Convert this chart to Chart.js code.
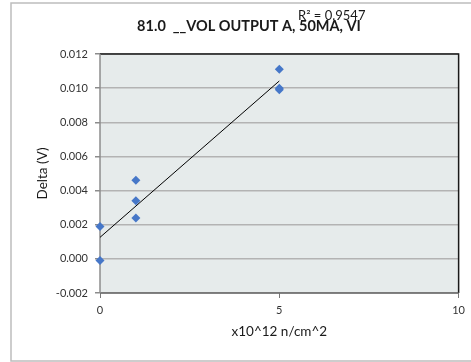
<!DOCTYPE html>
<html>
<head>
<meta charset="utf-8">
<script src="https://cdn.jsdelivr.net/npm/chart.js@4"></script>
<style>
  html, body { margin: 0; padding: 0; background: #fff; }
  canvas { display: block; }
</style>
</head>
<body>
<canvas id="deltaChart" width="471" height="362"></canvas>
<script>
// Data
const fluence = [0, 0, 1, 1, 1, 5, 5, 5];
const delta = [0.0019, -0.0001, 0.0046, 0.0034, 0.0024, 0.0111, 0.0100, 0.0099];
const trendX = [0, 5];
const trendY = [0.00126, 0.01042];
const xTicks = [0, 5, 10];
const yTicks = [-0.002, 0, 0.002, 0.004, 0.006, 0.008, 0.010, 0.012];
const chartTitle = '81.0  __VOL OUTPUT A, 50MA, VI';
const rSquared = 'R\u00b2 = 0.9547';

const FONT = 'Lato, "Open Sans", sans-serif';

// frame, plot background, titles
const decor = {
  id: 'decor',
  beforeDraw(chart) {
    const { ctx, chartArea: a } = chart;
    ctx.save();
    ctx.strokeStyle = '#bdbdbd';
    ctx.lineWidth = 1.5;
    ctx.strokeRect(11, 3, 520, 358);
    ctx.fillStyle = '#e6ebeb';
    ctx.fillRect(a.left, a.top, a.right - a.left, a.bottom - a.top);
    ctx.restore();
  },
  beforeDatasetsDraw(chart) {
    const { ctx, chartArea: a } = chart;
    ctx.save();
    ctx.strokeStyle = '#1a1a1a';
    ctx.lineWidth = 1.5;
    ctx.beginPath();
    ctx.moveTo(a.left, a.top);
    ctx.lineTo(a.right, a.top);
    ctx.lineTo(a.right, a.bottom);
    ctx.stroke();
    ctx.strokeStyle = '#666';
    ctx.beginPath();
    ctx.moveTo(a.right, a.bottom);
    ctx.lineTo(a.left, a.bottom);
    ctx.stroke();
    ctx.strokeStyle = '#8c8c8c';
    ctx.beginPath();
    ctx.moveTo(a.left, a.bottom);
    ctx.lineTo(a.left, a.top);
    ctx.stroke();
    ctx.restore();
  },
  afterDatasetsDraw(chart) {
    const { ctx, chartArea: a } = chart;
    ctx.save();
    ctx.fillStyle = '#1a1a1a';
    ctx.textBaseline = 'middle';
    ctx.textAlign = 'center';
    ctx.font = 'bold 14.5px ' + FONT;
    ctx.fillText(chartTitle, 249, 26);
    ctx.font = '13px ' + FONT;
    ctx.textAlign = 'left';
    ctx.fillText(rSquared, 298, 16);

    ctx.textAlign = 'center';
    ctx.font = '13.5px ' + FONT;
    ctx.fillText('x10^12 n/cm^2', (a.left + a.right) / 2, 332);
    ctx.translate(43, (a.top + a.bottom) / 2);
    ctx.rotate(-Math.PI / 2);
    ctx.fillText('Delta (V)', 0, 0);
    ctx.restore();
  }
};

new Chart(document.getElementById('deltaChart'), {
  type: 'scatter',
  data: {
    datasets: [
      {
        label: 'Delta',
        data: fluence.map((x, i) => ({ x: x, y: delta[i] })),
        pointStyle: 'rectRot',
        pointRadius: 4.5,
        backgroundColor: '#4677c8',
        borderColor: '#4677c8',
        borderWidth: 0,
        clip: false,
        order: 1
      },
      {
        label: 'Trend',
        type: 'line',
        data: trendX.map((x, i) => ({ x: x, y: trendY[i] })),
        borderColor: '#000',
        borderWidth: 1,
        pointRadius: 0,
        fill: false,
        order: 2
      }
    ]
  },
  options: {
    responsive: false,
    animation: false,
    layout: { padding: { left: 0, right: 8, top: 54, bottom: 0 } },
    plugins: {
      legend: { display: false },
      tooltip: { enabled: false }
    },
    scales: {
      x: {
        type: 'linear',
        min: 0,
        max: 10,
        afterBuildTicks: s => { s.ticks = xTicks.map(v => ({ value: v })); },
        afterFit: s => { s.height = 69; },
        border: { display: false },
        grid: { drawOnChartArea: false, drawTicks: true, tickLength: 5, color: '#777' },
        ticks: { padding: 6, color: '#333', font: { family: FONT, size: 11 }, maxRotation: 0 }
      },
      y: {
        min: -0.002,
        max: 0.012,
        afterBuildTicks: s => { s.ticks = yTicks.map(v => ({ value: v })); },
        afterFit: s => { s.width = 100; },
        border: { display: false },
        grid: { color: '#b3b3b3', lineWidth: 1.5, tickLength: 5, tickColor: '#8c8c8c' },
        ticks: {
          padding: 7,
          color: '#333',
          font: { family: FONT, size: 11 },
          callback: v => v.toFixed(3)
        }
      }
    }
  },
  plugins: [decor]
});
</script>
</body>
</html>
